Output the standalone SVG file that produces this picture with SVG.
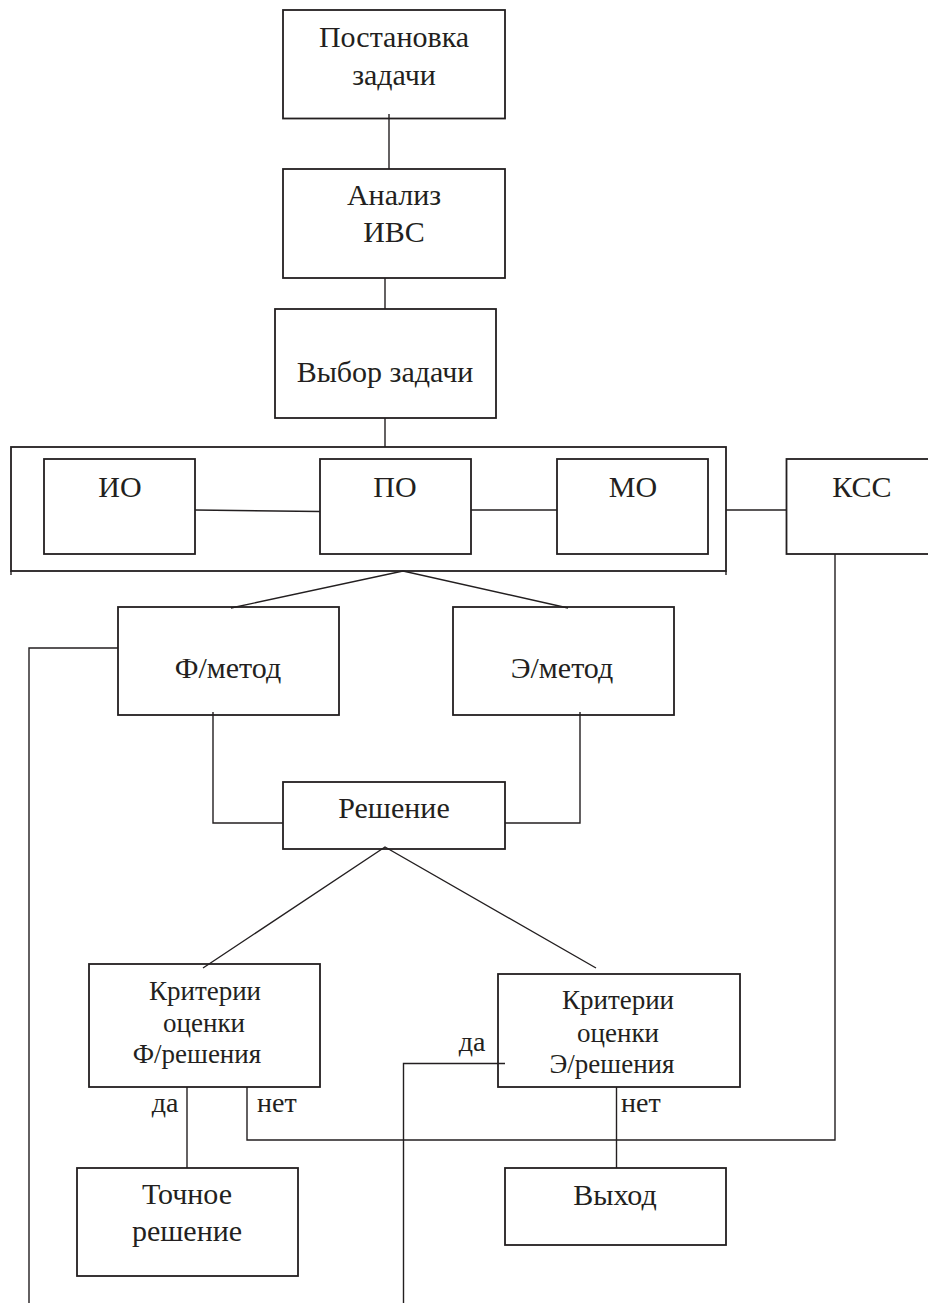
<svg xmlns="http://www.w3.org/2000/svg" width="928" height="1303" viewBox="0 0 928 1303">
<style>
.b{fill:#fff;stroke:#231f20;stroke-width:1.8}
.f{fill:none;stroke:#231f20;stroke-width:1.8}
.c{fill:none;stroke:#231f20;stroke-width:1.4}
text{font-family:'Liberation Serif','Times New Roman','DejaVu Serif',serif;fill:#231f20}
.t{font-size:30px;text-anchor:middle}
.s{font-size:27px;text-anchor:middle}
.l{font-size:28px}
</style>
<g id="n1"><rect class="b" x="283" y="10" width="222" height="108.5"/><text class="t" x="394" y="47">Постановка</text><text class="t" x="394" y="85">задачи</text></g>
<g id="n2"><rect class="b" x="283" y="169" width="222" height="109"/><text class="t" x="394" y="205">Анализ</text><text class="t" x="394" y="242">ИВС</text></g>
<g id="n3"><rect class="b" x="275" y="309" width="221" height="109"/><text class="t" x="385" y="382">Выбор задачи</text></g>
<g id="container"><rect class="f" x="11" y="447" width="715" height="124"/><line class="c" x1="11" y1="571" x2="11" y2="575"/><line class="c" x1="726" y1="571" x2="726" y2="575"/></g>
<g id="io"><rect class="b" x="44" y="459" width="151" height="95"/><text class="t" x="120" y="497">ИО</text></g>
<g id="po"><rect class="b" x="320" y="459" width="151" height="95"/><text class="t" x="395" y="497">ПО</text></g>
<g id="mo"><rect class="b" x="557" y="459" width="151" height="95"/><text class="t" x="633" y="497">МО</text></g>
<g id="kss"><rect class="b" x="786.5" y="459" width="150" height="95"/><text class="t" x="862" y="497">КСС</text></g>
<g id="fm"><rect class="b" x="118" y="607" width="221" height="108"/><text class="t" x="228" y="678">Ф/метод</text></g>
<g id="em"><rect class="b" x="453" y="607" width="221" height="108"/><text class="t" x="562" y="678">Э/метод</text></g>
<g id="res"><rect class="b" x="283" y="782" width="222" height="67"/><text class="t" x="394" y="818">Решение</text></g>
<g id="kf"><rect class="b" x="89" y="964" width="231" height="123"/><text class="s" x="205" y="1000">Критерии</text><text class="s" x="204" y="1032">оценки</text><text class="s" x="197" y="1063">Ф/решения</text></g>
<g id="ke"><rect class="b" x="498" y="974" width="242" height="113"/><text class="s" x="618" y="1009">Критерии</text><text class="s" x="618" y="1042">оценки</text><text class="s" x="612" y="1073">Э/решения</text></g>
<g id="exact"><rect class="b" x="77" y="1168" width="221" height="108"/><text class="t" x="187" y="1204">Точное</text><text class="t" x="187" y="1241">решение</text></g>
<g id="exit"><rect class="b" x="505" y="1168" width="221" height="77"/><text class="t" x="615" y="1205">Выход</text></g>
<g id="connectors">
<line class="c" x1="389" y1="114" x2="389" y2="169"/>
<line class="c" x1="385" y1="278" x2="385" y2="309"/>
<line class="c" x1="385" y1="418" x2="385" y2="447"/>
<line class="c" x1="195" y1="510" x2="320" y2="511.5"/>
<line class="c" x1="471" y1="510" x2="557" y2="510"/>
<line class="c" x1="726" y1="510" x2="786" y2="510"/>
<polyline class="c" points="231,608 403,571 568,608"/>
<polyline class="c" points="118,648 29,648 29,1303"/>
<polyline class="c" points="213,712 213,823 283,823"/>
<polyline class="c" points="505,823 580,823 580,712"/>
<polyline class="c" points="203,968 385,847 596,968"/>
<polyline class="c" points="505,1063.5 403.5,1063.5 403.5,1303"/>
<line class="c" x1="187" y1="1087" x2="187" y2="1168"/>
<polyline class="c" points="247,1087 247,1140 835,1140 835,554"/>
<line class="c" x1="616.5" y1="1087" x2="616.5" y2="1168"/>
<text class="l" x="472" y="1051" text-anchor="middle">да</text>
<text class="l" x="165" y="1112" text-anchor="middle">да</text>
<text class="l" x="257" y="1112">нет</text>
<text class="l" x="621" y="1112">нет</text>
</g>
</svg>
